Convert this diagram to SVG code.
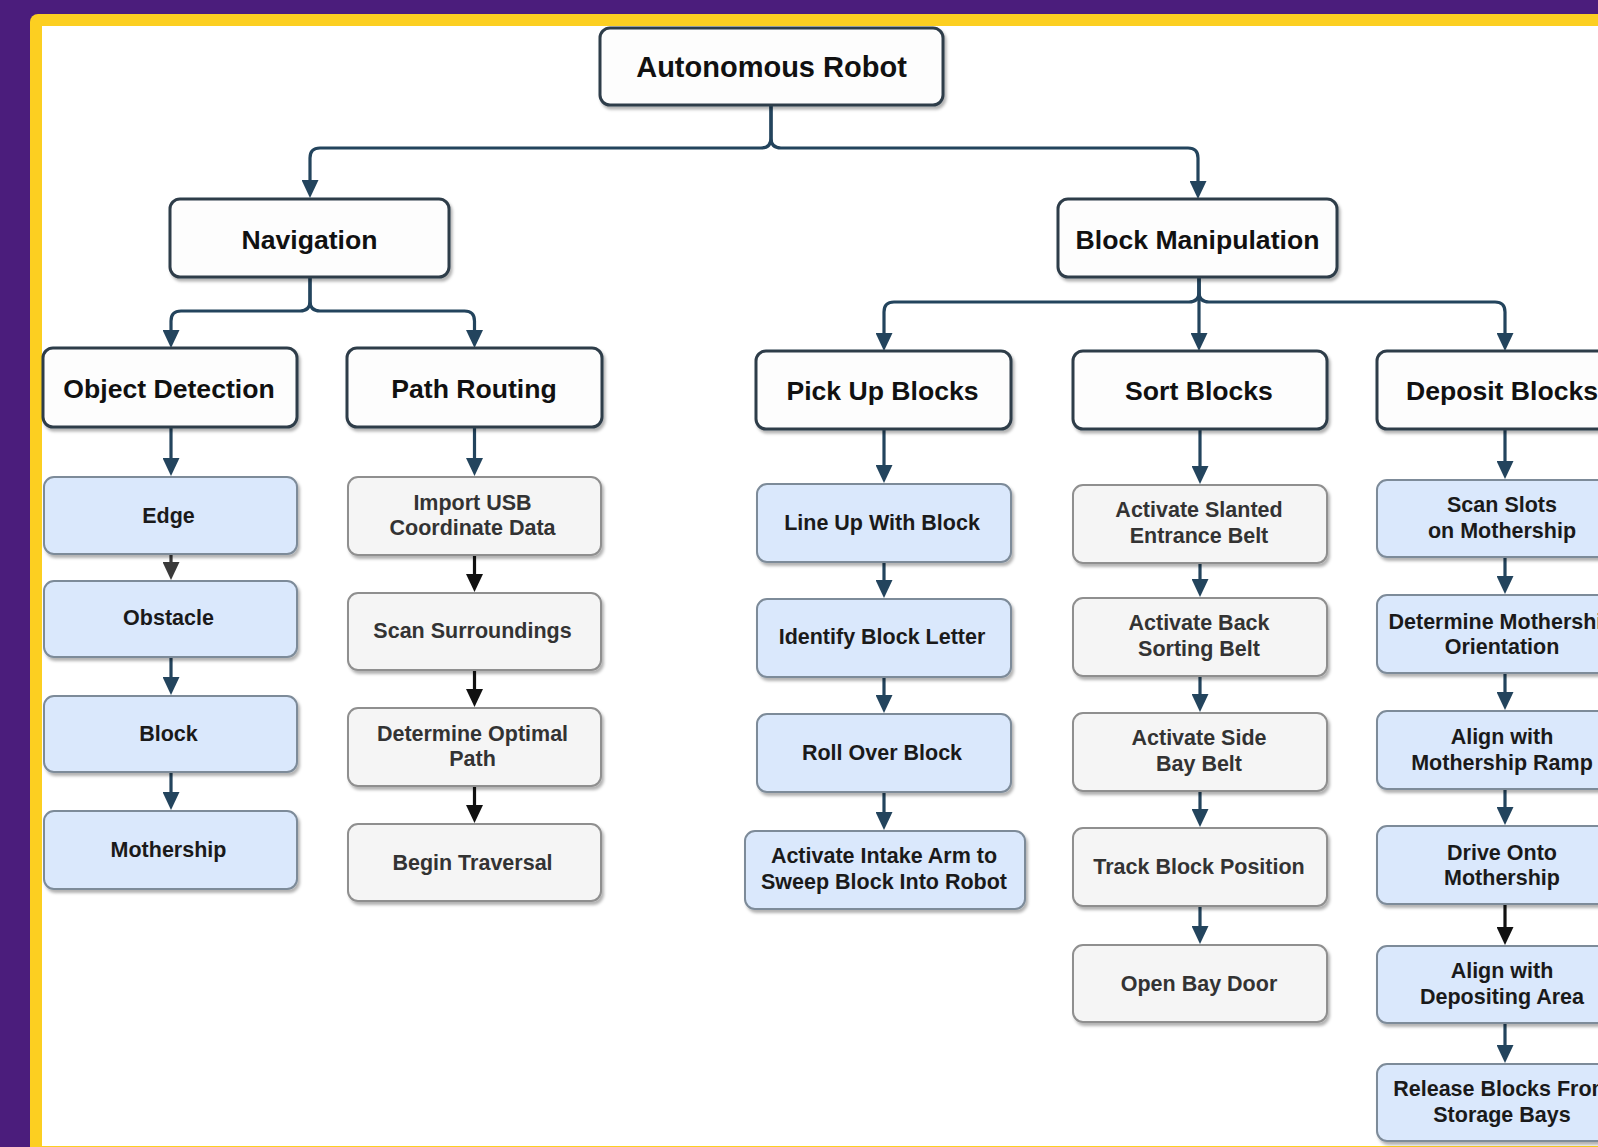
<svg xmlns="http://www.w3.org/2000/svg" width="1598" height="1147" viewBox="0 0 1598 1147">
<defs>
<filter id="sh" x="-10%" y="-10%" width="130%" height="140%">
<feDropShadow dx="2" dy="3" stdDeviation="1.8" flood-color="#000" flood-opacity="0.3"/>
</filter>
<marker id="aBlue" markerUnits="userSpaceOnUse" viewBox="0 0 18 17" markerWidth="18" markerHeight="17" refX="9" refY="8.5" orient="auto">
<path d="M0,0 L18,8.5 L0,17 z" fill="#23445d"/>
</marker>
<marker id="aBlack" markerUnits="userSpaceOnUse" viewBox="0 0 18 17" markerWidth="18" markerHeight="17" refX="9" refY="8.5" orient="auto">
<path d="M0,0 L18,8.5 L0,17 z" fill="#111"/>
</marker>
<marker id="aGray" markerUnits="userSpaceOnUse" viewBox="0 0 18 17" markerWidth="18" markerHeight="17" refX="9" refY="8.5" orient="auto">
<path d="M0,0 L18,8.5 L0,17 z" fill="#3a3a3a"/>
</marker>
<style>
text{font-family:"Liberation Sans",Arial,Helvetica,sans-serif;font-weight:bold;text-anchor:middle}
.hd rect{fill:#fdfdfd;stroke:#2f3d4a;stroke-width:3}
.hd text{font-size:26.6px;fill:#111}
.bl rect{fill:#dae8fc;stroke:#7d8b99;stroke-width:2}
.bl text{font-size:21.5px;fill:#1a1a1a}
.gr rect{fill:#f5f5f5;stroke:#8f8f8f;stroke-width:2}
.gr text{font-size:21.5px;fill:#333}
.c{fill:none;stroke:#23445d;stroke-width:3.2;marker-end:url(#aBlue)}
.k{fill:none;stroke:#111;stroke-width:3.2;marker-end:url(#aBlack)}
.g{fill:none;stroke:#3a3a3a;stroke-width:3.2;marker-end:url(#aGray)}
</style>
</defs>
<rect x="0" y="0" width="1598" height="1147" fill="#4b1d7c"/>
<rect x="30" y="14" width="1620" height="1160" rx="8" fill="#fccf21"/>
<rect x="42" y="26" width="1600" height="1120" fill="#ffffff"/>

<g id="connectors">
<path class="c" d="M771,105 V138 Q771,148 761,148 H320 Q310,148 310,158 V189"/>
<path class="c" d="M771,105 V138 Q771,148 781,148 H1188 Q1198,148 1198,158 V190"/>
<path class="c" d="M310,277 V301 Q310,311 300,311 H181 Q171,311 171,321 V339"/>
<path class="c" d="M310,277 V301 Q310,311 320,311 H464.5 Q474.5,311 474.5,321 V339"/>
<path class="c" d="M1199,278 V292 Q1199,302 1189,302 H894 Q884,302 884,312 V342"/>
<path class="c" d="M1199,278 V342"/>
<path class="c" d="M1199,278 V292 Q1199,302 1209,302 H1495 Q1505,302 1505,312 V342"/>
<path class="c" d="M171,427 V467"/>
<path class="g" d="M171,554 V571"/>
<path class="c" d="M171,657 V686"/>
<path class="c" d="M171,772 V801"/>
<path class="c" d="M474.5,427 V467"/>
<path class="k" d="M474.5,555 V583"/>
<path class="k" d="M474.5,670 V698"/>
<path class="k" d="M474.5,786 V814"/>
<path class="c" d="M884,429 V474"/>
<path class="c" d="M884,562 V589"/>
<path class="c" d="M884,677 V704"/>
<path class="c" d="M884,792 V821"/>
<path class="c" d="M1200,428 V475"/>
<path class="c" d="M1200,563 V588"/>
<path class="c" d="M1200,676 V703"/>
<path class="c" d="M1200,791 V818"/>
<path class="c" d="M1200,906 V935"/>
<path class="c" d="M1505,428 V470"/>
<path class="c" d="M1505,557 V585"/>
<path class="c" d="M1505,673 V701"/>
<path class="c" d="M1505,789 V816"/>
<path class="k" d="M1505,904 V936"/>
<path class="c" d="M1505,1023 V1054"/>
</g>

<g id="n-root" class="hd"><rect x="600" y="28" width="343" height="77" rx="10" filter="url(#sh)"/><text x="771.5" y="77" style="font-size:29px">Autonomous Robot</text></g>
<g id="n-nav" class="hd"><rect x="170" y="199" width="279" height="78" rx="10" filter="url(#sh)"/><text x="309.5" y="249">Navigation</text></g>
<g id="n-bm" class="hd"><rect x="1058" y="199" width="279" height="78" rx="10" filter="url(#sh)"/><text x="1197.5" y="249">Block Manipulation</text></g>

<g id="n-od" class="hd"><rect x="43" y="348" width="254" height="79" rx="10" filter="url(#sh)"/><text x="169" y="398">Object Detection</text></g>
<g id="n-pr" class="hd"><rect x="347" y="348" width="255" height="79" rx="10" filter="url(#sh)"/><text x="474" y="398">Path Routing</text></g>
<g id="n-pu" class="hd"><rect x="756" y="351" width="255" height="78" rx="10" filter="url(#sh)"/><text x="882.5" y="400">Pick Up Blocks</text></g>
<g id="n-sb" class="hd"><rect x="1073" y="351" width="254" height="78" rx="10" filter="url(#sh)"/><text x="1199" y="400">Sort Blocks</text></g>
<g id="n-db" class="hd"><rect x="1377" y="351" width="255" height="78" rx="10" filter="url(#sh)"/><text x="1502" y="400">Deposit Blocks</text></g>

<g id="n-edge" class="bl"><rect x="44" y="477" width="253" height="77" rx="10" filter="url(#sh)"/><text x="168.5" y="522.5">Edge</text></g>
<g id="n-obstacle" class="bl"><rect x="44" y="581" width="253" height="76" rx="10" filter="url(#sh)"/><text x="168.5" y="625">Obstacle</text></g>
<g id="n-block" class="bl"><rect x="44" y="696" width="253" height="76" rx="10" filter="url(#sh)"/><text x="168.5" y="740.5">Block</text></g>
<g id="n-mothership" class="bl"><rect x="44" y="811" width="253" height="78" rx="10" filter="url(#sh)"/><text x="168.5" y="856.5">Mothership</text></g>

<g id="n-import" class="gr"><rect x="348" y="477" width="253" height="78" rx="10" filter="url(#sh)"/><text x="472.5" y="509.5">Import USB</text><text x="472.5" y="535">Coordinate Data</text></g>
<g id="n-scan" class="gr"><rect x="348" y="593" width="253" height="77" rx="10" filter="url(#sh)"/><text x="472.5" y="637.5">Scan Surroundings</text></g>
<g id="n-optimal" class="gr"><rect x="348" y="708" width="253" height="78" rx="10" filter="url(#sh)"/><text x="472.5" y="740.5">Determine Optimal</text><text x="472.5" y="766">Path</text></g>
<g id="n-traversal" class="gr"><rect x="348" y="824" width="253" height="77" rx="10" filter="url(#sh)"/><text x="472.5" y="869.5">Begin Traversal</text></g>

<g id="n-lineup" class="bl"><rect x="757" y="484" width="254" height="78" rx="10" filter="url(#sh)"/><text x="882" y="529.5">Line Up With Block</text></g>
<g id="n-identify" class="bl"><rect x="757" y="599" width="254" height="78" rx="10" filter="url(#sh)"/><text x="882" y="643.5">Identify Block Letter</text></g>
<g id="n-roll" class="bl"><rect x="757" y="714" width="254" height="78" rx="10" filter="url(#sh)"/><text x="882" y="759.5">Roll Over Block</text></g>
<g id="n-intake" class="bl"><rect x="745" y="831" width="280" height="78" rx="10" filter="url(#sh)"/><text x="884" y="863">Activate Intake Arm to</text><text x="884" y="888.5">Sweep Block Into Robot</text></g>

<g id="n-slanted" class="gr"><rect x="1073" y="485" width="254" height="78" rx="10" filter="url(#sh)"/><text x="1199" y="516.5">Activate Slanted</text><text x="1199" y="542.5">Entrance Belt</text></g>
<g id="n-back" class="gr"><rect x="1073" y="598" width="254" height="78" rx="10" filter="url(#sh)"/><text x="1199" y="629.5">Activate Back</text><text x="1199" y="655.5">Sorting Belt</text></g>
<g id="n-side" class="gr"><rect x="1073" y="713" width="254" height="78" rx="10" filter="url(#sh)"/><text x="1199" y="744.5">Activate Side</text><text x="1199" y="770.5">Bay Belt</text></g>
<g id="n-track" class="gr"><rect x="1073" y="828" width="254" height="78" rx="10" filter="url(#sh)"/><text x="1199" y="874">Track Block Position</text></g>
<g id="n-door" class="gr"><rect x="1073" y="945" width="254" height="77" rx="10" filter="url(#sh)"/><text x="1199" y="990.5">Open Bay Door</text></g>

<g id="n-slots" class="bl"><rect x="1377" y="480" width="255" height="77" rx="10" filter="url(#sh)"/><text x="1502" y="511.5">Scan Slots</text><text x="1502" y="538">on Mothership</text></g>
<g id="n-orient" class="bl"><rect x="1377" y="595" width="255" height="78" rx="10" filter="url(#sh)"/><text x="1502" y="628.5">Determine Mothership</text><text x="1502" y="653.5">Orientation</text></g>
<g id="n-ramp" class="bl"><rect x="1377" y="711" width="255" height="78" rx="10" filter="url(#sh)"/><text x="1502" y="743.5">Align with</text><text x="1502" y="769.5">Mothership Ramp</text></g>
<g id="n-drive" class="bl"><rect x="1377" y="826" width="255" height="78" rx="10" filter="url(#sh)"/><text x="1502" y="859.5">Drive Onto</text><text x="1502" y="885">Mothership</text></g>
<g id="n-area" class="bl"><rect x="1377" y="946" width="255" height="77" rx="10" filter="url(#sh)"/><text x="1502" y="977.5">Align with</text><text x="1502" y="1003.5">Depositing Area</text></g>
<g id="n-release" class="bl"><rect x="1377" y="1064" width="255" height="77" rx="10" filter="url(#sh)"/><text x="1502" y="1095.5">Release Blocks From</text><text x="1502" y="1121.5">Storage Bays</text></g>
</svg>
